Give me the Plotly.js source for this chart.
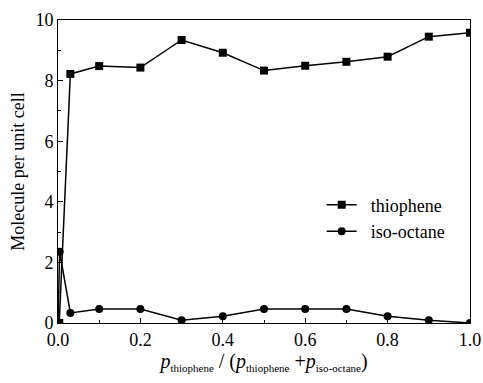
<!DOCTYPE html>
<html>
<head>
<meta charset="utf-8">
<script src="https://cdn.plot.ly/plotly-3.0.1.min.js"></script>
<style>body{margin:0;padding:0;background:#fff;} #chart{width:483px;height:383px;}</style>
</head>
<body>
<div id="chart"></div>
<script>
var thiopheneX = [0.003, 0.03, 0.1, 0.2, 0.3, 0.4, 0.5, 0.6, 0.7, 0.8, 0.9, 1.0];
var thiopheneY = [0.0, 8.22, 8.48, 8.43, 9.34, 8.92, 8.33, 8.49, 8.62, 8.79, 9.45, 9.58];
var isoOctaneX = [0.0, 0.004, 0.03, 0.1, 0.2, 0.3, 0.4, 0.5, 0.6, 0.7, 0.8, 0.9, 1.0];
var isoOctaneY = [0.0, 2.35, 0.33, 0.46, 0.46, 0.09, 0.22, 0.46, 0.46, 0.46, 0.22, 0.09, 0.0];
var seriesNames = ['thiophene', 'iso-octane'];

var font = 'Liberation Serif';
var sub = function (t) { return '<sub><span style="font-size:11px">' + t + '</span></sub>'; };
var traces = [
  {x: thiopheneX, y: thiopheneY, name: '\u00a0\u00a0' + seriesNames[0], mode: 'lines+markers', type: 'scatter',
   line: {color: '#000', width: 1.5}, marker: {symbol: 'square', size: 8, color: '#000'}},
  {x: isoOctaneX, y: isoOctaneY, name: '\u00a0\u00a0' + seriesNames[1], mode: 'lines+markers', type: 'scatter',
   line: {color: '#000', width: 1.5}, marker: {symbol: 'circle', size: 8, color: '#000'}}
];
var layout = {
  width: 483, height: 383,
  margin: {l: 58, r: 13, t: 20, b: 60},
  paper_bgcolor: '#fff', plot_bgcolor: '#fff',
  font: {family: font, size: 18, color: '#000'},
  showlegend: true,
  legend: {x: 0.64, y: 0.45, xanchor: 'left', yanchor: 'top', bgcolor: 'rgba(0,0,0,0)',
           font: {family: font, size: 18, color: '#000'}, tracegroupgap: 0, itemwidth: 30},
  xaxis: {range: [0, 1], dtick: 0.2, tick0: 0, tickformat: '.1f', ticks: 'inside', ticklen: 5,
          tickcolor: '#000', showline: true, linecolor: '#000', linewidth: 1, mirror: true,
          showgrid: false, zeroline: false,
          minor: {dtick: 0.1, ticks: 'inside', ticklen: 3, tickcolor: '#000'},
          tickfont: {family: font, size: 18, color: '#000'},
          title: {text: '<i>p</i>' + sub('thiophene') + ' / (<i>p</i>' + sub('thiophene') + ' +<i>p</i>' + sub('iso-octane') + ')',
                  font: {family: font, size: 20, color: '#000'}, standoff: 0}},
  yaxis: {range: [0, 10], dtick: 2, tick0: 0, ticks: 'inside', ticklen: 5,
          tickcolor: '#000', showline: true, linecolor: '#000', linewidth: 1, mirror: true,
          showgrid: false, zeroline: false,
          minor: {dtick: 1, ticks: 'inside', ticklen: 3, tickcolor: '#000'},
          tickfont: {family: font, size: 18, color: '#000'},
          title: {text: 'Molecule per unit cell', font: {family: font, size: 18, color: '#000'}, standoff: 6}}
};
Plotly.newPlot('chart', traces, layout, {displayModeBar: false, staticPlot: true});
</script>
</body>
</html>
